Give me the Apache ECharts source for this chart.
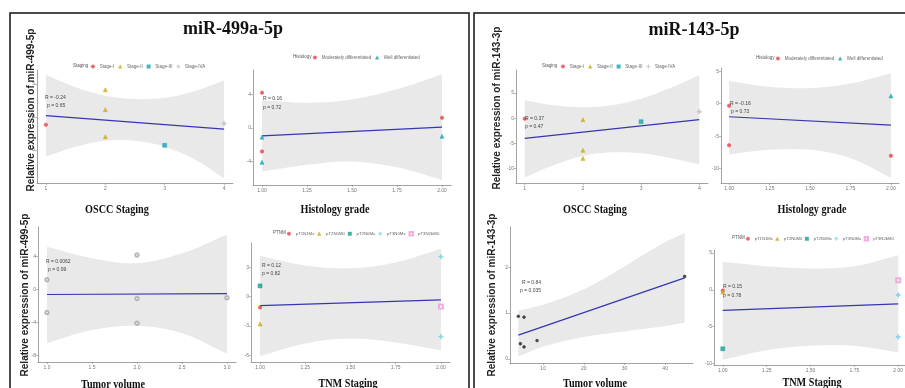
<!DOCTYPE html>
<html>
<head>
<meta charset="utf-8">
<script src="https://cdn.jsdelivr.net/npm/echarts@6/dist/echarts.min.js"></script>
<style>
  html, body { margin: 0; padding: 0; background: #fff; }
  #chart { width: 905px; height: 388px; }
</style>
</head>
<body>
<div id="chart"></div>
<script>
// group names used by the legends
const stagingGroups = ['Stage-I', 'Stage-II', 'Stage-III', 'Stage-IVA'];
const histologyGroups = ['Moderately differentiated', 'Well differentiated'];
const tnmGroups = ['pT1N1Mx', 'pT2N0M0', 'pT2N0Mx', 'pT3N0Mx', 'pT3N2bM0'];

// ---- miR-499a-5p : OSCC staging ----
const aX = [1, 2, 2, 2, 3, 4];
const aY = [-1.2, 4.1, 1.1, -3.0, -4.3, -1.0];
const aGroup = ['Stage-I', 'Stage-II', 'Stage-II', 'Stage-II', 'Stage-III', 'Stage-IVA'];
const aFitX = [1, 4];
const aFitY = [0.2, -1.86];
const aBandX = [1, 1.5, 2, 2.5, 3, 3.5, 4];
const aBandHi = [6.4, 4.5, 3.2, 2.7, 2.9, 3.9, 5.5];
const aBandLo = [-6.0, -4.5, -3.6, -3.6, -4.5, -6.4, -9.3];
const aXTicks = [1, 2, 3, 4];
const aYTicks = [-5, 0, 5];

// ---- miR-499a-5p : histology grade ----
const bX = [1, 1, 1, 1, 2, 2];
const bY = [4.2, -2.8, -1.1, -4.1, 1.2, -1.0];
const bGroup = ['Moderately differentiated', 'Moderately differentiated', 'Well differentiated', 'Well differentiated', 'Moderately differentiated', 'Well differentiated'];
const bFitX = [1, 2];
const bFitY = [-0.95, 0.1];
const bBandX = [1, 1.25, 1.5, 1.75, 2];
const bBandHi = [3.3, 3.0, 3.4, 4.6, 6.4];
const bBandLo = [-5.2, -4.4, -4.0, -4.7, -6.2];
const bXTicks = [1, 1.25, 1.5, 1.75, 2];
const bYTicks = [-4, 0, 4];

// ---- miR-499a-5p : tumor volume ----
const cX = [1, 1, 2, 2, 2, 3];
const cY = [1.2, -2.8, 4.2, -1.1, -4.1, -1.0];
const cGroup = ['volume', 'volume', 'volume', 'volume', 'volume', 'volume'];
const cFitX = [1, 3];
const cFitY = [-0.6, -0.5];
const cBandX = [1, 1.5, 2, 2.5, 3];
const cBandHi = [5.2, 3.8, 3.2, 4.4, 6.7];
const cBandLo = [-6.5, -4.9, -4.4, -5.3, -7.8];
const cXTicks = [1, 1.5, 2, 2.5, 3];
const cYTicks = [-8, -4, 0, 4];

// ---- miR-499a-5p : TNM staging ----
const dX = [1, 1, 1, 2, 2, 2];
const dY = [-1.1, -2.8, 1.1, 4.1, -4.1, -1.0];
const dGroup = ['pT1N1Mx', 'pT2N0M0', 'pT2N0Mx', 'pT3N0Mx', 'pT3N0Mx', 'pT3N2bM0'];
const dFitX = [1, 2];
const dFitY = [-0.93, -0.33];
const dBandX = [1, 1.25, 1.5, 1.75, 2];
const dBandHi = [4.2, 3.2, 2.9, 3.5, 4.9];
const dBandLo = [-6.1, -4.8, -4.3, -4.7, -5.5];
const dXTicks = [1, 1.25, 1.5, 1.75, 2];
const dYTicks = [-6, -3, 0, 3];

// ---- miR-143-5p : OSCC staging ----
const eX = [1, 2, 2, 2, 3, 4];
const eY = [-0.1, -0.3, -6.4, -8.0, -0.7, 1.3];
const eGroup = ['Stage-I', 'Stage-II', 'Stage-II', 'Stage-II', 'Stage-III', 'Stage-IVA'];
const eFitX = [1, 4];
const eFitY = [-4.0, -0.3];
const eBandX = [1, 1.5, 2, 2.5, 3, 3.5, 4];
const eBandHi = [3.6, 2.6, 2.2, 2.6, 3.9, 6.0, 8.6];
const eBandLo = [-11.8, -9.3, -7.5, -6.8, -7.0, -7.9, -9.2];
const eXTicks = [1, 2, 3, 4];
const eYTicks = [-10, -5, 0, 5];

// ---- miR-143-5p : histology grade ----
const fX = [1, 1, 2, 2];
const fY = [-6.4, -0.3, -8.0, 1.2];
const fGroup = ['Moderately differentiated', 'Moderately differentiated', 'Moderately differentiated', 'Well differentiated'];
const fFitX = [1, 2];
const fFitY = [-2.0, -3.3];
const fBandX = [1, 1.25, 1.5, 1.75, 2];
const fBandHi = [3.5, 2.6, 2.4, 3.1, 4.7];
const fBandLo = [-7.8, -7.1, -7.1, -8.4, -11.4];
const fXTicks = [1, 1.25, 1.5, 1.75, 2];
const fYTicks = [-10, -5, 0, 5];

// ---- miR-143-5p : tumor volume ----
const gX = [3.9, 5.3, 4.4, 5.3, 8.5, 44.8];
const gY = [0.93, 0.91, 0.33, 0.26, 0.4, 1.8];
const gGroup = ['volume2', 'volume2', 'volume2', 'volume2', 'volume2', 'volume2'];
const gFitX = [3.9, 44.8];
const gFitY = [0.52, 1.77];
const gBandX = [3.9, 10, 20, 30, 40, 44.8];
const gBandHi = [1.05, 1.18, 1.52, 2.02, 2.55, 2.75];
const gBandLo = [0.05, 0.27, 0.48, 0.6, 0.72, 0.79];
const gXTicks = [10, 20, 30, 40];
const gYTicks = [0, 1, 2];

// ---- miR-143-5p : TNM staging ----
const hX = [1, 1, 1, 2, 2, 2];
const hY = [-0.1, -0.3, -8.0, -0.7, -6.4, 1.3];
const hGroup = ['pT1N1Mx', 'pT2N0M0', 'pT2N0Mx', 'pT3N0Mx', 'pT3N0Mx', 'pT3N2bM0'];
const hFitX = [1, 2];
const hFitY = [-2.8, -1.9];
const hBandX = [1, 1.25, 1.5, 1.75, 2];
const hBandHi = [3.8, 3.2, 2.9, 3.2, 4.7];
const hBandLo = [-9.5, -8.2, -7.6, -7.6, -8.5];
const hXTicks = [1, 1.25, 1.5, 1.75, 2];
const hYTicks = [-10, -5, 0, 5];

// marker look for each group
const plus = 'path://M2,0H3V2H5V3H3V5H2V3H0V2H2Z';
const groupStyle = {
  'Stage-I': { color: '#e5434b', symbol: 'circle', size: 3.5 },
  'Stage-II': { color: '#c9aa10', symbol: 'triangle', size: 4 },
  'Stage-III': { color: '#15a7b5', symbol: 'rect', size: 4 },
  'Stage-IVA': { color: '#c9bcc8', symbol: plus, size: 4.5 },
  'Moderately differentiated': { color: '#e5434b', symbol: 'circle', size: 3.5 },
  'Well differentiated': { color: '#15a7b5', symbol: 'triangle', size: 4 },
  'pT1N1Mx': { color: '#e5434b', symbol: 'circle', size: 3.5 },
  'pT2N0M0': { color: '#c9aa10', symbol: 'triangle', size: 4 },
  'pT2N0Mx': { color: '#13a091', symbol: 'rect', size: 4 },
  'pT3N0Mx': { color: '#74d0e2', symbol: plus, size: 4.5 },
  'pT3N2bM0': { color: '#ee9ad8', symbol: 'emptyRect', size: 4 },
  'volume': { color: '#a8a8a8', symbol: 'emptyCircle', size: 3.5 },
  'volume2': { color: '#222', symbol: 'circle', size: 2.8 }
};

const grids = [
  { left: 37, top: 70, width: 196, height: 113 },
  { left: 253, top: 70, width: 198, height: 115 },
  { left: 38, top: 227, width: 198, height: 135 },
  { left: 251, top: 243, width: 199, height: 119 },
  { left: 516, top: 70, width: 192, height: 113 },
  { left: 721, top: 68, width: 178, height: 115 },
  { left: 510, top: 227, width: 183, height: 136 },
  { left: 714, top: 250, width: 193, height: 115 }
].map(g => Object.assign({ outerBoundsMode: 'none', containLabel: false }, g));

const axisGrey = '#8c8c8c';
function xAxisOf(i, min, max, ticks, digits) {
  return {
    type: 'value', gridIndex: i, min: min, max: max,
    axisLine: { show: true, onZero: false, lineStyle: { color: axisGrey, width: 0.8 } },
    axisTick: { show: true, length: 2, customValues: ticks, lineStyle: { color: axisGrey, width: 0.6 } },
    axisLabel: { customValues: ticks, fontSize: 5, color: '#777', margin: 3, fontFamily: 'Liberation Sans',
      formatter: v => v.toFixed(digits) },
    splitLine: { show: false }
  };
}
function yAxisOf(i, min, max, ticks) {
  return {
    type: 'value', gridIndex: i, min: min, max: max,
    axisLine: { show: true, onZero: false, lineStyle: { color: axisGrey, width: 0.8 } },
    axisTick: { show: true, length: 2, customValues: ticks, lineStyle: { color: axisGrey, width: 0.6 } },
    axisLabel: { customValues: ticks, fontSize: 5, color: '#777', margin: 2, fontFamily: 'Liberation Sans',
      formatter: v => String(v) },
    splitLine: { show: false }
  };
}

const xAxes = [
  xAxisOf(0, 0.85, 4.15, aXTicks, 0),
  xAxisOf(1, 0.95, 2.05, bXTicks, 2),
  xAxisOf(2, 0.9, 3.1, cXTicks, 1),
  xAxisOf(3, 0.95, 2.05, dXTicks, 2),
  xAxisOf(4, 0.85, 4.15, eXTicks, 0),
  xAxisOf(5, 0.95, 2.05, fXTicks, 2),
  xAxisOf(6, 1.85, 46.85, gXTicks, 0),
  xAxisOf(7, 0.95, 2.05, hXTicks, 2)
];
const yAxes = [
  yAxisOf(0, -10, 7.1, aYTicks),
  yAxisOf(1, -6.8, 6.9, bYTicks),
  yAxisOf(2, -8.8, 7.6, cYTicks),
  yAxisOf(3, -6.7, 5.5, dYTicks),
  yAxisOf(4, -12.9, 9.6, eYTicks),
  yAxisOf(5, -12.2, 5.5, fYTicks),
  yAxisOf(6, -0.09, 2.88, gYTicks),
  yAxisOf(7, -10.2, 5.4, hYTicks)
];

const series = [];
function addPanel(i, xs, ys, groups, fitX, fitY, bandX, bandLo, bandHi) {
  // confidence ribbon: polygon through the read band points, mapped by the axes
  series.push({
    type: 'custom', xAxisIndex: i, yAxisIndex: i, silent: true, z: 1,
    data: bandX.map((x, k) => [x, bandLo[k], bandHi[k]]),
    encode: { x: 0, y: [1, 2] },
    renderItem: function (params, api) {
      if (params.dataIndex !== 0) return null;
      const top = bandX.map((x, k) => api.coord([x, bandHi[k]]));
      const bot = bandX.map((x, k) => api.coord([x, bandLo[k]])).reverse();
      // corners doubled so each edge is smoothed on its own
      const pts = [top[0]].concat(top, [top[top.length - 1], bot[0]], bot, [bot[bot.length - 1]]);
      return { type: 'polygon', shape: { points: pts, smooth: 0.35 }, style: { fill: '#e9e9e9' } };
    }
  });
  series.push({
    type: 'line', xAxisIndex: i, yAxisIndex: i, silent: true, z: 3,
    data: fitX.map((x, k) => [x, fitY[k]]),
    symbol: 'none', lineStyle: { color: '#3636b4', width: 1.2 }
  });
  const names = [];
  groups.forEach(g => { if (names.indexOf(g) < 0) names.push(g); });
  names.forEach(name => {
    const st = groupStyle[name];
    series.push({
      type: 'scatter', name: name, xAxisIndex: i, yAxisIndex: i, z: 4,
      symbol: st.symbol, symbolSize: st.size,
      itemStyle: { color: st.color, borderColor: st.color, borderWidth: 0.6 },
      data: xs.map((x, k) => [x, ys[k]]).filter((p, k) => groups[k] === name)
    });
  });
}
addPanel(0, aX, aY, aGroup, aFitX, aFitY, aBandX, aBandLo, aBandHi);
addPanel(1, bX, bY, bGroup, bFitX, bFitY, bBandX, bBandLo, bBandHi);
addPanel(2, cX, cY, cGroup, cFitX, cFitY, cBandX, cBandLo, cBandHi);
addPanel(3, dX, dY, dGroup, dFitX, dFitY, dBandX, dBandLo, dBandHi);
addPanel(4, eX, eY, eGroup, eFitX, eFitY, eBandX, eBandLo, eBandHi);
addPanel(5, fX, fY, fGroup, fFitX, fFitY, fBandX, fBandLo, fBandHi);
addPanel(6, gX, gY, gGroup, gFitX, gFitY, gBandX, gBandLo, gBandHi);
addPanel(7, hX, hY, hGroup, hFitX, hFitY, hBandX, hBandLo, hBandHi);

function legendAt(names, left, top, gap, size) {
  return {
    data: names, left: left, top: top, orient: 'horizontal', padding: 0, width: 300,
    itemWidth: 3.5, itemHeight: 3.5, itemGap: gap, selectedMode: false,
    itemStyle: { borderWidth: 0.4 },
    textStyle: { fontSize: size, color: '#666', fontFamily: 'Liberation Sans' }
  };
}

const graphic = [];
function text(x, y, str, font, extra) {
  graphic.push(Object.assign({
    type: 'text', x: x, y: y, silent: true, z: 100,
    style: Object.assign({ text: str, font: font, fill: '#111', textAlign: 'left', textVerticalAlign: 'middle' },
      extra && extra.style)
  }, extra && extra.el));
}
// frames
graphic.push({ type: 'rect', shape: { x: 10, y: 13, width: 459, height: 400 }, style: { fill: 'none', stroke: '#111', lineWidth: 1.5 }, silent: true });
graphic.push({ type: 'rect', shape: { x: 474, y: 13, width: 440, height: 400 }, style: { fill: 'none', stroke: '#111', lineWidth: 1.5 }, silent: true });

const titleFont = 'bold 18px "Liberation Serif"';
text(233, 29, 'miR-499a-5p', titleFont, { style: { textAlign: 'center' } });
text(694, 30, 'miR-143-5p', titleFont, { style: { textAlign: 'center' } });

const yFont = '600 10px "Liberation Sans"';
const rot = { el: { rotation: Math.PI / 2 }, style: { textAlign: 'center', fill: '#222' } };
text(31, 110, 'Relative expression of miR-499-5p', yFont, rot);
text(25, 295, 'Relative expression of miR-499-5p', yFont, rot);
text(497, 108, 'Relative expression of miR-143-3p', yFont, rot);
text(492, 295, 'Relative expression of miR-143-3p', yFont, rot);

const nameFont = 'bold 12px "Liberation Serif"';
const squeeze = { el: { scaleX: 0.85 }, style: { textAlign: 'center' } };
text(117, 210, 'OSCC Staging', nameFont, squeeze);
text(335, 210, 'Histology grade', nameFont, squeeze);
text(113, 385, 'Tumor volume', nameFont, squeeze);
text(348, 384, 'TNM Staging', nameFont, squeeze);
text(595, 210, 'OSCC Staging', nameFont, squeeze);
text(812, 210, 'Histology grade', nameFont, squeeze);
text(595, 384, 'Tumor volume', nameFont, squeeze);
text(812, 383, 'TNM Staging', nameFont, squeeze);

const statFont = '5px "Liberation Sans"';
const statStyle = { style: { fill: '#444' } };
[[45, 98, 'R = -0.24'], [47, 106, 'p = 0.65'],
 [263, 99, 'R = 0.16'], [263, 108, 'p = 0.72'],
 [46, 262, 'R = 0.0062'], [48, 270, 'p = 0.99'],
 [262, 266, 'R = 0.12'], [262, 274, 'p = 0.82'],
 [525, 119, 'R = 0.37'], [525, 127, 'p = 0.47'],
 [730, 104, 'R = -0.16'], [731, 112, 'p = 0.73'],
 [522, 283, 'R = 0.84'], [520, 291, 'p = 0.035'],
 [723, 287, 'R = 0.15'], [723, 296, 'p = 0.78']
].forEach(t => text(t[0], t[1], t[2], statFont, statStyle));

const legTitleFont = '4.5px "Liberation Sans"';
const legStyle = { style: { fill: '#555' } };
text(73, 66, 'Staging', legTitleFont, legStyle);
text(293, 57, 'Histology', legTitleFont, legStyle);
text(273, 233, 'PTNM', legTitleFont, legStyle);
text(542, 66, 'Staging', legTitleFont, legStyle);
text(756, 58, 'Histology', legTitleFont, legStyle);
text(732, 238, 'PTNM', legTitleFont, legStyle);

const chart = echarts.init(document.getElementById('chart'), null, { renderer: 'canvas' });
chart.setOption({
  backgroundColor: '#fff',
  animation: false,
  grid: grids,
  xAxis: xAxes,
  yAxis: yAxes,
  legend: [
    legendAt(stagingGroups, 91, 64, 4, 4.5),
    legendAt(histologyGroups, 313, 55, 4, 4.5),
    legendAt(tnmGroups, 287, 231, 3, 4.3),
    legendAt(stagingGroups, 561, 64, 4, 4.5),
    legendAt(histologyGroups, 776, 56, 4, 4.5),
    legendAt(tnmGroups, 746, 236, 2.5, 4.2)
  ],
  graphic: graphic,
  series: series
});
</script>
</body>
</html>
